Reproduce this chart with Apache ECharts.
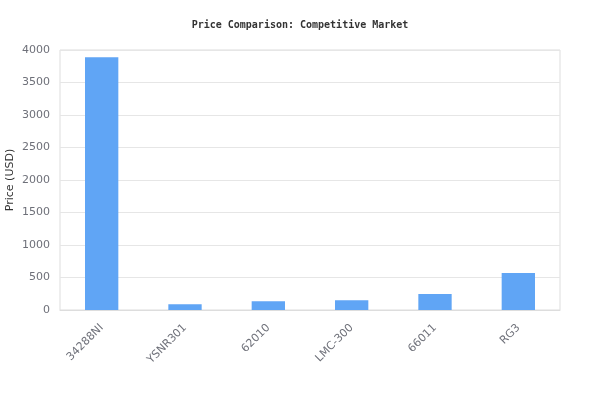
<!DOCTYPE html>
<html>
<head>
<meta charset="utf-8">
<script src="https://cdn.jsdelivr.net/npm/echarts@6/dist/echarts.min.js"></script>
<style>
  html, body { margin: 0; padding: 0; background: #fff; }
  #chart { width: 600px; height: 420px; }
</style>
</head>
<body>
<div id="chart"></div>
<script>
// data
const models = ['34288NI', 'YSNR301', '62010', 'LMC-300', '66011', 'RG3'];
const prices = [3890, 90, 135, 150, 245, 570];
const yTicks = { min: 0, max: 4000, step: 500 };

var myChart = echarts.init(document.getElementById('chart'));

var option = {
    animation: false,
    textStyle: { fontFamily: 'DejaVu Sans' },
    title: {
        text: 'Price Comparison: Competitive Market',
        left: 'center',
        top: 15,
        textStyle: { fontFamily: 'DejaVu Sans Mono', fontSize: 10, fontWeight: 'bold', color: '#333' }
    },
    grid: {
        left: 60, right: 40, top: 50, bottom: 110,
        outerBoundsMode: 'none',
        show: true, borderColor: '#ddd', borderWidth: 1
    },
    xAxis: {
        type: 'category',
        data: models,
        axisTick: { show: false },
        axisLine: { lineStyle: { color: '#ddd' } },
        axisLabel: { rotate: 45, color: '#6e7079', fontSize: 11, margin: 16, fontFamily: 'DejaVu Sans' }
    },
    yAxis: {
        type: 'value',
        min: yTicks.min,
        max: yTicks.max,
        interval: yTicks.step,
        name: 'Price (USD)',
        nameLocation: 'middle',
        nameGap: 44,
        nameMoveOverlap: false,
        nameTextStyle: { color: '#333', fontSize: 11, fontFamily: 'DejaVu Sans' },
        axisLabel: { color: '#6e7079', fontSize: 11, margin: 10, fontFamily: 'DejaVu Sans', formatter: function (v) { return String(v); } },
        splitLine: { lineStyle: { color: '#e6e6e6' } }
    },
    series: [{
        type: 'bar',
        data: prices,
        barWidth: '40%',
        itemStyle: { color: '#60a5f5' }
    }]
};

myChart.setOption(option);
</script>
</body>
</html>
